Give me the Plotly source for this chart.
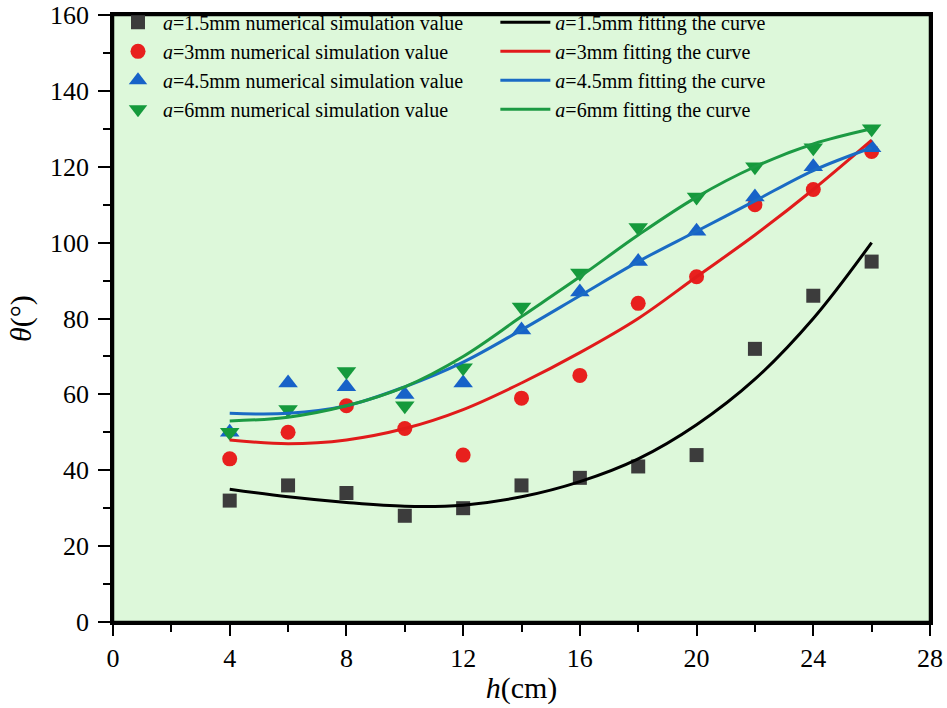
import plotly.graph_objects as go

h = [4, 6, 8, 10, 12, 14, 16, 18, 20, 22, 24, 26]

sim_15 = [32, 36, 34, 28, 30, 36, 38, 41, 44, 72, 86, 95]
sim_3 = [43, 50, 57, 51, 44, 59, 65, 84, 91, 110, 114, 124]
sim_45 = [50, 63, 62, 60, 63, 77, 87, 95, 103, 112, 120, 125]
sim_6 = [50, 56, 66, 57, 67, 83, 92, 104, 112, 120, 125, 130]

fit_15 = [35, 33, 31.5, 30.5, 30.8, 33, 37, 43, 52, 64, 80, 100]
fit_3 = [48, 47, 48, 51, 56, 63, 71, 80, 91, 102, 114, 127]
fit_45 = [55, 55, 57, 62, 68.5, 77, 86, 95, 103, 111, 119, 125]
fit_6 = [53, 54, 57, 62, 70, 80.5, 91, 102, 112, 120, 126, 130]

labels_a = ["1.5", "3", "4.5", "6"]
sim_sets = [sim_15, sim_3, sim_45, sim_6]
fit_sets = [fit_15, fit_3, fit_45, fit_6]
marker_colors = ["#3c3c3c", "#e8201e", "#1762c8", "#159a3c"]
line_colors = ["#000000", "#e11b1b", "#1a6bc4", "#1c9a43"]
symbols = ["square", "circle", "triangle-up", "triangle-down"]
sizes = [14, 15, 17, 17]

x_ticks = [0, 4, 8, 12, 16, 20, 24, 28]
y_ticks = [0, 20, 40, 60, 80, 100, 120, 140, 160]

FONT = "Liberation Serif"

fig = go.Figure()

for a, ys, c, s, sz in zip(labels_a, sim_sets, marker_colors, symbols, sizes):
    fig.add_trace(go.Scatter(
        x=h, y=ys, mode="markers",
        marker=dict(symbol=s, color=c, size=sz, line=dict(width=0)),
        name=f"<i>a</i>={a}mm numerical simulation value",
        legend="legend",
    ))

for a, ys, c in zip(labels_a, fit_sets, line_colors):
    fig.add_trace(go.Scatter(
        x=h, y=ys, mode="lines",
        line=dict(color=c, width=3, shape="spline", smoothing=1.0),
        name=f"<i>a</i>={a}mm fitting the curve",
        legend="legend2",
    ))

axis_common = dict(
    showline=True, linecolor="black", linewidth=2.5, mirror=True,
    ticks="outside", tickwidth=2, tickcolor="black",
    showgrid=False, zeroline=False,
    tickfont=dict(family=FONT, size=26, color="black"),
    ticklabeloverflow="allow",
    minor=dict(ticks="outside", ticklen=7, tickwidth=2, tickcolor="black"),
)

fig.update_layout(
    width=947, height=708,
    margin=dict(l=113, r=17, t=15, b=86, autoexpand=False),
    paper_bgcolor="white",
    plot_bgcolor="#ddf8da",
    font=dict(family=FONT, color="black"),
    xaxis=dict(
        range=[0, 28], tickvals=x_ticks, ticktext=[str(v) for v in x_ticks],
        title=dict(text="<i>h</i>(cm)", font=dict(family=FONT, size=30), standoff=6),
        ticklen=11, ticklabelstandoff=0,
        **axis_common,
    ),
    yaxis=dict(
        range=[0, 160], tickvals=y_ticks, ticktext=[str(v) for v in y_ticks],
        title=dict(text="<i>θ</i>(°)", font=dict(family=FONT, size=30), standoff=10),
        ticklen=12, ticklabelstandoff=4,
        **axis_common,
    ),
    legend=dict(
        x=0.0, y=1.02, xanchor="left", yanchor="top",
        bgcolor="rgba(0,0,0,0)", borderwidth=0,
        font=dict(family=FONT, size=20, color="black"),
        tracegroupgap=0, itemwidth=40,
    ),
    legend2=dict(
        x=0.468, y=1.02, xanchor="left", yanchor="top",
        bgcolor="rgba(0,0,0,0)", borderwidth=0,
        font=dict(family=FONT, size=20, color="black"),
        tracegroupgap=0, itemwidth=50,
    ),
    shapes=[dict(
        type="rect", xref="paper", yref="paper", x0=0, x1=1, y0=0, y1=1,
        line=dict(color="black", width=2.5), fillcolor="rgba(0,0,0,0)", layer="above",
    )],
    showlegend=True,
)

fig.update_xaxes(minor_dtick=2)
fig.update_yaxes(minor_dtick=10)

fig.write_html("out.html")
